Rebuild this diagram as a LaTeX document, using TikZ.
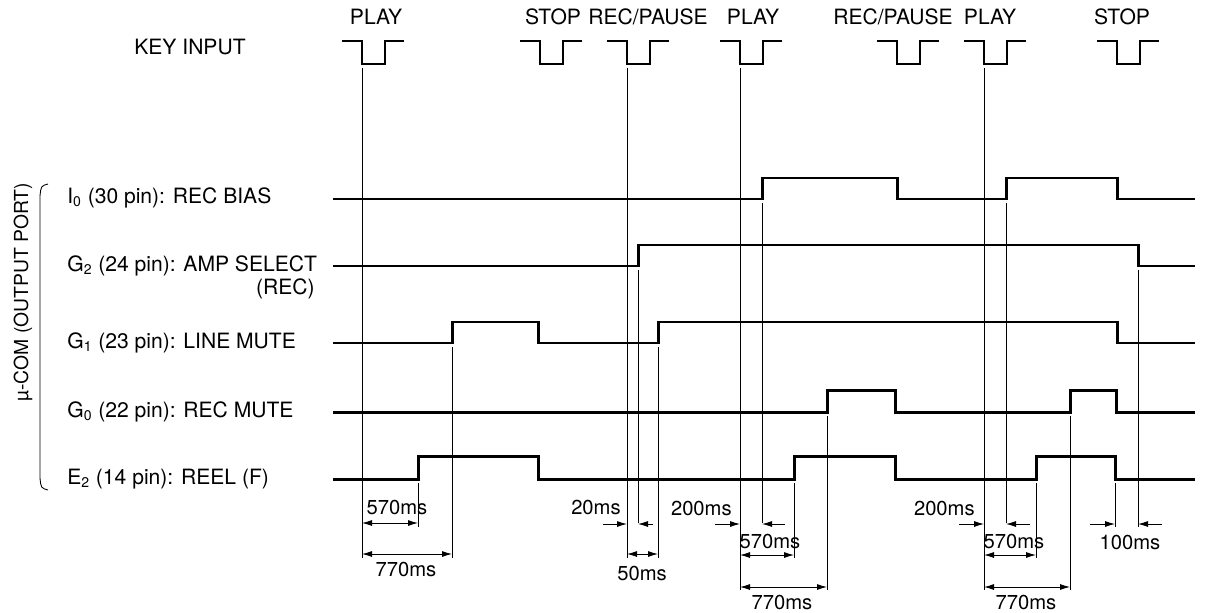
\documentclass[tikz,border=0pt]{standalone}
\usepackage{fontspec}
\setmainfont{TeX Gyre Heros}
\usetikzlibrary{arrows.meta}

\tikzset{
  sig/.style={line width=1.7pt,line join=miter},
  keyp/.style={line width=1.4pt},
  tick/.style={line width=0.5pt},
  txt/.style={font=\fontsize{12}{14}\selectfont,inner sep=0pt},
  ms/.style={font=\fontsize{11.5}{13}\selectfont,inner sep=0pt}
}

\begin{document}
\begin{tikzpicture}[x=0.02cm,y=-0.02cm,>={Latex[length=2mm,width=1.2mm]}]
  \useasboundingbox (0,0) rectangle (1209,612);

  % key input pulses
  \node[txt] (keyin) at (190,47) {KEY INPUT};
  \foreach \t/\lx/\name in {362/376/PLAY, 540/553/STOP, 627/648/{REC/PAUSE},
      740/753/PLAY, 897/893/{REC/PAUSE}, 984/990/PLAY, 1117/1122/STOP} {
    \draw[keyp] (\t-20,41) -- (\t,41) -- (\t,64) -- (\t+23,64) -- (\t+23,41) -- (\t+42,41);
    \node[txt] (key\t) at (\lx,17) {\name};
  }

  % port labels
  \node[txt,font=\fontsize{11}{13}\selectfont,rotate=90] (ucom) at (23,292) {µ-COM (OUTPUT PORT)};
  \draw[tick] (48,184) .. controls (41,186) .. (40,196) -- (40,478) .. controls (41,488) .. (48,490);
  \node[txt,anchor=west] (lbIo) at (67,198) {I\textsubscript{0} (30 pin): REC BIAS};
  \node[txt,anchor=west] (lbGb) at (67,266) {G\textsubscript{2} (24 pin): AMP SELECT};
  \node[txt,anchor=east] (lbRec) at (315,289) {(REC)};
  \node[txt,anchor=west] (lbGa) at (67,343) {G\textsubscript{1} (23 pin): LINE MUTE};
  \node[txt,anchor=west] (lbGo) at (67,412) {G\textsubscript{0} (22 pin): REC MUTE};
  \node[txt,anchor=west] (lbE) at (67,479) {E\textsubscript{2} (14 pin): REEL (F)};

  % waveforms
  \draw[sig] (333,199) -- (762,199) -- (762,178) -- (897,178) -- (897,199) -- (1006,199)
    -- (1006,178) -- (1117,178) -- (1117,199) -- (1195,199);
  \draw[sig] (333,266) -- (638,266) -- (638,245) -- (1138,245) -- (1138,266) -- (1195,266);
  \draw[sig] (333,343) -- (452,343) -- (452,322) -- (538,322) -- (538,343) -- (658,343)
    -- (658,322) -- (1117,322) -- (1117,343) -- (1195,343);
  \draw[sig] (333,412) -- (827,412) -- (827,390) -- (895,390) -- (895,412) -- (1070,412)
    -- (1070,390) -- (1116,390) -- (1116,412) -- (1195,412);
  \draw[sig] (333,479) -- (418,479) -- (418,456) -- (538,456) -- (538,479) -- (794,479)
    -- (794,456) -- (895,456) -- (895,479) -- (1036,479) -- (1036,456) -- (1115,456)
    -- (1115,479) -- (1195,479);

  % timing lines
  \foreach \x/\ya/\yb in {362/68/558, 418/483/527, 452/347/558, 627/68/558, 638/270/523,
      658/347/558, 740/68/590, 762/203/523, 794/483/558, 827/416/590, 984/68/590,
      1006/203/523, 1036/483/558, 1070/416/590, 1115/483/527, 1138/270/527}
    \draw[tick] (\x,\ya) -- (\x,\yb);

  % intervals
  \draw[tick,<->] (362,523) -- (418,523);
  \node[ms] (dA) at (397,507) {570ms};
  \draw[tick,<->] (362,554) -- (452,554);
  \node[ms] (dB) at (406,569) {770ms};
  \draw[tick,->] (603,524) -- (627,524);
  \draw[tick,->] (653,524) -- (638,524);
  \node[ms,anchor=east] (dC) at (621,507) {20ms};
  \draw[tick,<->] (627,554) -- (658,554);
  \node[ms] (dD) at (642,573) {50ms};
  \draw[tick,->] (715,524) -- (740,524);
  \draw[tick,->] (785,524) -- (762,524);
  \node[ms,anchor=east] (dE) at (732,508) {200ms};
  \draw[tick,<->] (740,555) -- (794,555);
  \node[ms] (dF) at (770,541) {570ms};
  \draw[tick,<->] (740,587) -- (827,587);
  \node[ms] (dG) at (782,602) {770ms};
  \draw[tick,->] (959,524) -- (984,524);
  \draw[tick,->] (1030,524) -- (1006,524);
  \node[ms,anchor=east] (dH) at (975,508) {200ms};
  \draw[tick,<->] (984,555) -- (1036,555);
  \node[ms] (dI) at (1014,541) {570ms};
  \draw[tick,<->] (984,587) -- (1070,587);
  \node[ms] (dJ) at (1026,602) {770ms};
  \draw[tick,->] (1090,524) -- (1115,524);
  \draw[tick,->] (1162,524) -- (1138,524);
  \node[ms] (dK) at (1130,542) {100ms};
\end{tikzpicture}
\end{document}
